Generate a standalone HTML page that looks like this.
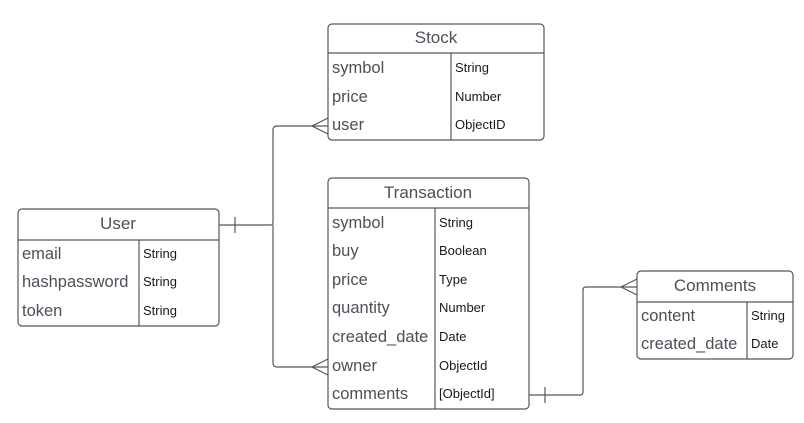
<!DOCTYPE html>
<html><head><meta charset="utf-8"><style>
html,body{margin:0;padding:0;background:#fff;}
svg{display:block;}
text{font-family:"Liberation Sans",sans-serif;}
.h{font-size:17px;fill:#4d5058;text-anchor:middle;}
.f{font-size:16.5px;fill:#4d5058;}
.t{font-size:13px;fill:#1a1a1a;}
.b{fill:#fff;stroke:#55575c;stroke-width:1.2;}
.l{stroke:#55575c;stroke-width:1.2;fill:none;}
</style></head><body>
<svg width="804" height="423" viewBox="0 0 804 423">
<!-- connectors -->
<path class="l" d="M219 225 H271 Q273 225 273 222 V130 Q273 126 277 126 H328"/>
<path class="l" d="M273 225 V363 Q273 367 277 367 H328"/>
<path class="l" d="M235 217 V233"/>
<path class="l" d="M328 118 L312 126 L328 134"/>
<path class="l" d="M328 359 L312 367 L328 375"/>
<path class="l" d="M529 395 H580 Q583 395 583 392 V290 Q583 287 586 287 H637"/>
<path class="l" d="M545 387 V403"/>
<path class="l" d="M637 279 L621 287 L637 295"/>
<!-- Stock -->
<rect class="b" x="328" y="24" width="216" height="116" rx="4"/>
<path class="l" d="M328 53 H544 M451 53 V140"/>
<text class="h" x="436" y="43">Stock</text>
<text class="f" x="332" y="73">symbol</text><text class="t" x="455" y="72">String</text>
<text class="f" x="332" y="102">price</text><text class="t" x="455" y="101">Number</text>
<text class="f" x="332" y="130">user</text><text class="t" x="455" y="129">ObjectID</text>
<!-- Transaction -->
<rect class="b" x="328" y="178" width="201" height="231" rx="4"/>
<path class="l" d="M328 208 H529 M435 208 V409"/>
<text class="h" x="428" y="198">Transaction</text>
<text class="f" x="332" y="228">symbol</text><text class="t" x="439" y="227">String</text>
<text class="f" x="332" y="256">buy</text><text class="t" x="439" y="255">Boolean</text>
<text class="f" x="332" y="285">price</text><text class="t" x="439" y="284">Type</text>
<text class="f" x="332" y="313">quantity</text><text class="t" x="439" y="312">Number</text>
<text class="f" x="332" y="342">created_date</text><text class="t" x="439" y="341">Date</text>
<text class="f" x="332" y="371">owner</text><text class="t" x="439" y="370">ObjectId</text>
<text class="f" x="332" y="399">comments</text><text class="t" x="439" y="398">[ObjectId]</text>
<!-- User -->
<rect class="b" x="18" y="209" width="201" height="117" rx="4"/>
<path class="l" d="M18 240 H219 M139 240 V326"/>
<text class="h" x="118" y="229">User</text>
<text class="f" x="22" y="259">email</text><text class="t" x="143" y="258">String</text>
<text class="f" x="22" y="287">hashpassword</text><text class="t" x="143" y="286">String</text>
<text class="f" x="22" y="316">token</text><text class="t" x="143" y="315">String</text>
<!-- Comments -->
<rect class="b" x="637" y="271" width="156" height="88" rx="4"/>
<path class="l" d="M637 302 H793 M747 302 V359"/>
<text class="h" x="715" y="291">Comments</text>
<text class="f" x="641" y="321">content</text><text class="t" x="751" y="320">String</text>
<text class="f" x="641" y="349">created_date</text><text class="t" x="751" y="348">Date</text>
</svg>
</body></html>
